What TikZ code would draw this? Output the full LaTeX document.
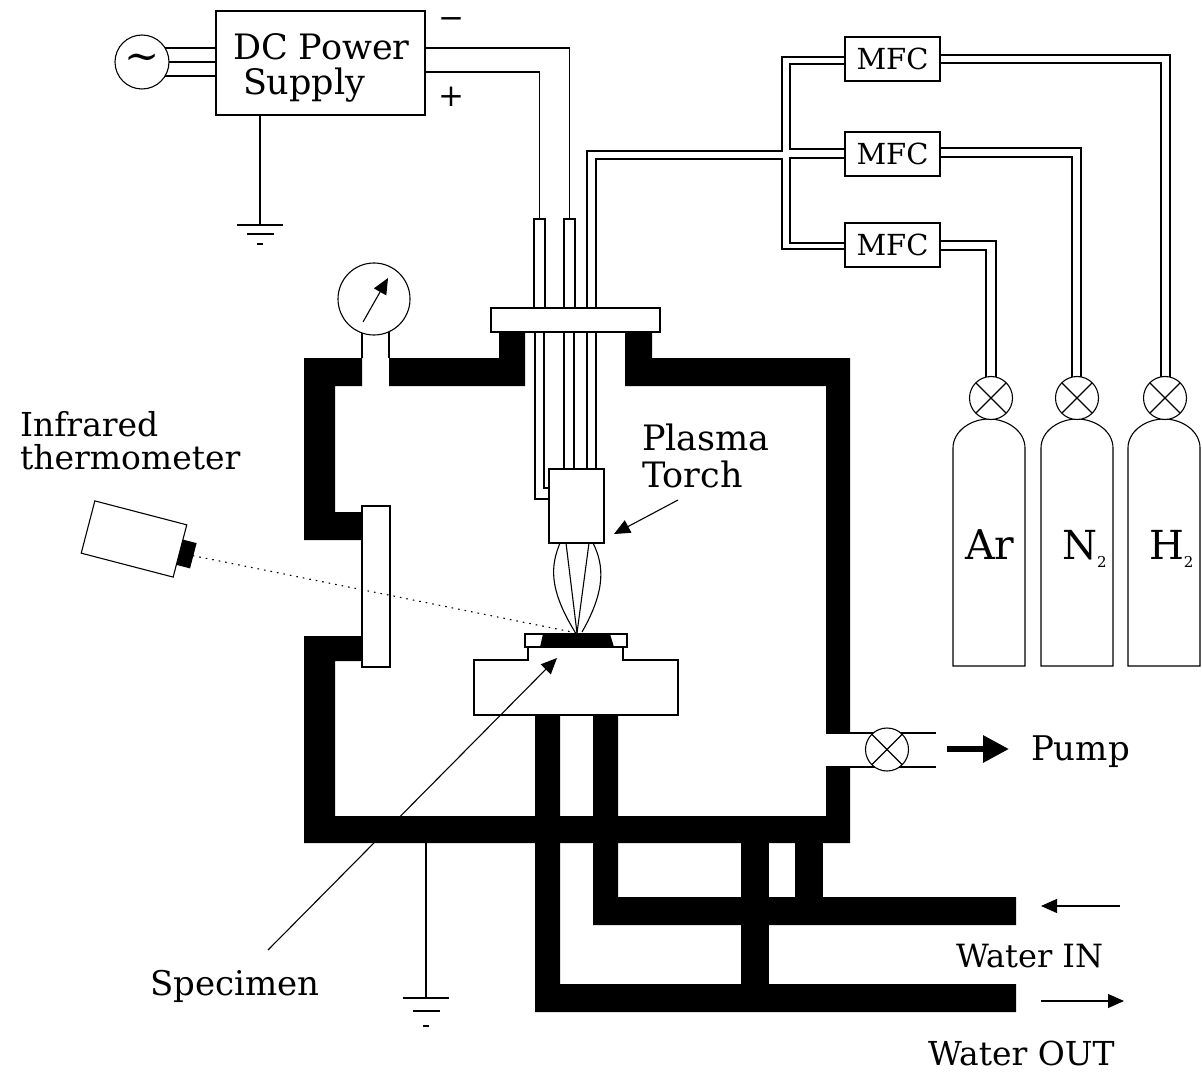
\documentclass[tikz,border=0pt]{standalone}
\usepackage{fontspec}
\setmainfont{DejaVu Serif}
\usepackage{tikz}
\usetikzlibrary{arrows.meta}

\begin{document}
\begin{tikzpicture}[x=1pt,y=-1pt,line width=1.1pt,line join=miter]
    \tikzstyle{box}=[draw,rectangle,fill=white,inner sep=0pt,outer sep=0pt]
    \tikzstyle{dial}=[draw,circle,fill=white,inner sep=0pt,outer sep=0pt]
    \tikzstyle{valve}=[dial,minimum size=43pt,path picture={
        \draw (path picture bounding box.north west) -- (path picture bounding box.south east);
        \draw (path picture bounding box.north east) -- (path picture bounding box.south west);}]
    \tikzstyle{wall}=[fill=black,draw=none]
    \tikzstyle{annot}=[inner sep=0pt,outer sep=0pt,anchor=base west,font=\fontsize{34}{36}\selectfont,align=left]
    \tikzstyle{tip}=[-{Triangle[length=16pt,width=14pt]}]
    \def\subtwo{\raisebox{-8pt}{\fontsize{15}{15}\selectfont 2}}

    \useasboundingbox (0,0) rectangle (1202,1075);

    % Draw the chamber walls
    \fill[wall] (304,358) -- (362,358) -- (362,386) -- (335,386) -- (335,512) -- (362,512)
        -- (362,540) -- (304,540) -- cycle;
    \fill[wall] (389,358) -- (499,358) -- (499,332) -- (525,332) -- (525,386) -- (389,386) -- cycle;
    \fill[wall] (652,332) -- (652,358) -- (850,358) -- (850,733) -- (826,733) -- (826,386)
        -- (625,386) -- (625,332) -- cycle;
    \fill[wall] (304,636) -- (362,636) -- (362,661) -- (335,661) -- (335,816) -- (826,816)
        -- (826,767) -- (850,767) -- (850,843) -- (304,843) -- cycle;

    % Draw the water pipes
    \fill[wall] (535,715) -- (560,715) -- (560,984) -- (1016,984) -- (1016,1012) -- (535,1012) -- cycle;
    \fill[wall] (593,715) -- (618,715) -- (618,897) -- (1016,897) -- (1016,925) -- (593,925) -- cycle;
    \fill[wall] (741,843) rectangle (769,984);
    \fill[wall] (795,843) rectangle (823,897);

    % Draw the power supply and the source
    \node[box,minimum width=209pt,minimum height=104pt] (DC) at (320.5,63) {};
    \node[annot,font=\fontsize{35}{35}\selectfont] (DC-label) at (233,95) {DC Power\\\hspace*{10pt}Supply};
    \coordinate (AC-c) at (142,62);
    \foreach \y in {48,62,76}
        \draw (AC-c |- 0,\y) -- (DC.west |- 0,\y);
    \node[dial,minimum size=54pt,font=\fontsize{42}{42}\selectfont] (AC) at (AC-c) {∼};
    \node[annot,anchor=center,font=\fontsize{31}{31}\selectfont] (minus) at (451,23) {−};
    \node[annot,anchor=center,font=\fontsize{31}{31}\selectfont] (plus) at (451,97) {+};

    % Draw the electrodes
    \node[box,minimum width=11pt,minimum height=89pt] (T-1) at (539.5,263.5) {};
    \node[box,minimum width=11pt,minimum height=89pt] (T-2) at (569.5,263.5) {};
    \draw (DC.east |- 0,72) -| (T-1.north);
    \draw (DC.east |- 0,48) -| (T-2.north);

    % Draw the ground symbols
    \foreach \name / \x / \y / \sa / \sb in {1/260/225/9/19, 2/426/998/13/28}
    {
        \coordinate (G-\name) at (\x,\y);
        \draw (\x-23,\y) -- (\x+23,\y);
        \draw (\x-13.5,\y+\sa) -- (\x+13.5,\y+\sa);
        \draw (\x-3,\y+\sb) -- (\x+3,\y+\sb);
    }
    \draw (DC.south -| G-1) -- (G-1);
    \coordinate (base) at (426,843);
    \draw (base) -- (G-2);

    % Draw the flow controllers
    \foreach \name / \y in {1/59,2/154,3/245}
        \node[box,minimum width=95pt,minimum height=44pt,font=\fontsize{29}{29}\selectfont]
            (M-\name) at (892.5,\y) {MFC};

    % Draw the valves and the gas cylinders
    \foreach \name / \x / \v in {1/989/991,2/1077/1077,3/1164/1165}
    {
        \draw (\x-36,666) -- (\x-36,448) .. controls (\x-36,431) and (\x-18,419) .. (\x,419)
            .. controls (\x+18,419) and (\x+36,431) .. (\x+36,448) -- (\x+36,666) -- cycle;
        \node[valve] (V-\name) at (\v,398) {};
    }
    \node[annot,font=\fontsize{41}{41}\selectfont] (gas-1) at (965,559) {Ar};
    \node[annot,font=\fontsize{40}{40}\selectfont] (gas-2) at (1062,559) {N\subtwo};
    \node[annot,font=\fontsize{40}{40}\selectfont] (gas-3) at (1149,559) {H\subtwo};

    % Connect the flow controllers with the valves
    \foreach \name / \ya / \yb / \xa / \xb in {1/55/63/1170/1161, 2/148/157/1081/1072, 3/241/250/996/986}
    {
        \draw (M-\name.east |- 0,\ya) -- (\xa,\ya) -- (V-\name.north -| \xa,0);
        \draw (M-\name.east |- 0,\yb) -- (\xb,\yb) -- (V-\name.north -| \xb,0);
    }

    % Connect the flow controllers with the torch
    \node[box,minimum width=55pt,minimum height=74pt] (torch) at (576.5,506) {};
    \draw (M-1.west |- 0,57) -- (782,57) -- (782,151) -- (587,151) -- (torch.north -| 587,0);
    \draw (M-1.west |- 0,64) -- (790,64) -- (790,149) -- (M-2.west |- 0,149);
    \draw (M-2.west |- 0,158) -- (790,158) -- (790,243) -- (M-3.west |- 0,243);
    \draw (M-3.west |- 0,249) -- (782,249) -- (782,159) -- (596,159) -- (torch.north -| 596,0);

    % Lines from the electrodes down to the torch
    \draw (T-1.south -| 535,0) -- (535,499) -- (torch.west |- 0,499);
    \draw (T-1.south -| 544,0) -- (544,488) -- (torch.west |- 0,488);
    \draw (T-2.south -| 564,0) -- (torch.north -| 564,0);
    \draw (T-2.south -| 574,0) -- (torch.north -| 574,0);

    % Draw the flange and the side window
    \node[box,minimum width=169pt,minimum height=24pt] (flange) at (575.5,320) {};
    \node[box,minimum width=28pt,minimum height=161pt] (window) at (376,586.5) {};

    % Draw the gauge
    \coordinate (gauge-c) at (374,299);
    \draw (gauge-c -| 362,0) -- (362,358);
    \draw (gauge-c -| 389,0) -- (389,358);
    \node[dial,minimum size=72pt] (gauge) at (gauge-c) {};
    \coordinate (needle-a) at (363,322);
    \coordinate (needle-b) at (388,278);
    \draw[tip] (needle-a) -- (needle-b);

    % Draw the stage and the specimen
    \draw[fill=white] (474,660) -- (528,660) -- (528,647) -- (623,647) -- (623,660) -- (678,660)
        -- (678,715) -- (474,715) -- cycle;
    \node[box,minimum width=102pt,minimum height=13pt] (plate) at (576,640.5) {};
    \fill (543,634) -- (610,634) -- (614,647) -- (540,647) -- cycle;

    % Draw the flame
    \coordinate (F) at (577,633);
    \draw (torch.south -| 566,0) -- (F);
    \draw (torch.south -| 589,0) -- (F);
    \draw (torch.south -| 560,0) .. controls (551,565) and (548,588) .. (575,632);
    \draw (torch.south -| 593,0) .. controls (604,565) and (606,590) .. (582,632);

    % Draw the thermometer
    \node[box,minimum width=95pt,minimum height=54pt,rotate=-14.6] (IR) at (134,539) {};
    \node[box,fill=black,minimum width=13pt,minimum height=25pt,rotate=-14.6] (lens) at (186.5,554) {};
    \draw[dash pattern=on 1.6pt off 5pt] (lens.east) -- (F);

    % Draw the pump valve
    \coordinate (port) at (826,750);
    \draw (port |- 0,733) -- (936,733);
    \draw (port |- 0,767) -- (936,767);
    \node[valve] (V-4) at (887,749.5) {};

    % Annotate the picture
    \node[annot,font=\fontsize{33}{33}\selectfont] (ir) at (20,469) {Infrared\\thermometer};
    \node[annot,font=\fontsize{35}{37}\selectfont] (pt) at (642,487) {Plasma\\Torch};
    \node[annot] (spec) at (150,995) {Specimen};
    \node[annot] (pump) at (1031,760) {Pump};
    \node[annot,font=\fontsize{32}{32}\selectfont] (win) at (956,967) {Water IN};
    \node[annot,font=\fontsize{33}{33}\selectfont] (wout) at (928,1065) {Water OUT};

    \coordinate (spec-a) at (268,950);
    \coordinate (spec-b) at (557,658);
    \draw[tip] (spec-a) -- (spec-b);
    \coordinate (pt-a) at (678,500);
    \coordinate (pt-b) at (614,534);
    \draw[tip] (pt-a) -- (pt-b);

    \coordinate (pump-a) at (947,749);
    \coordinate (pump-b) at (1009,749);
    \draw[-{Triangle[length=26pt,width=26pt]},line width=6pt] (pump-a) -- (pump-b);
    \coordinate (win-a) at (1120,906);
    \coordinate (win-b) at (1041,906);
    \draw[tip] (win-a) -- (win-b);
    \coordinate (wout-a) at (1041,1001);
    \coordinate (wout-b) at (1124,1001);
    \draw[tip] (wout-a) -- (wout-b);
\end{tikzpicture}
\end{document}
